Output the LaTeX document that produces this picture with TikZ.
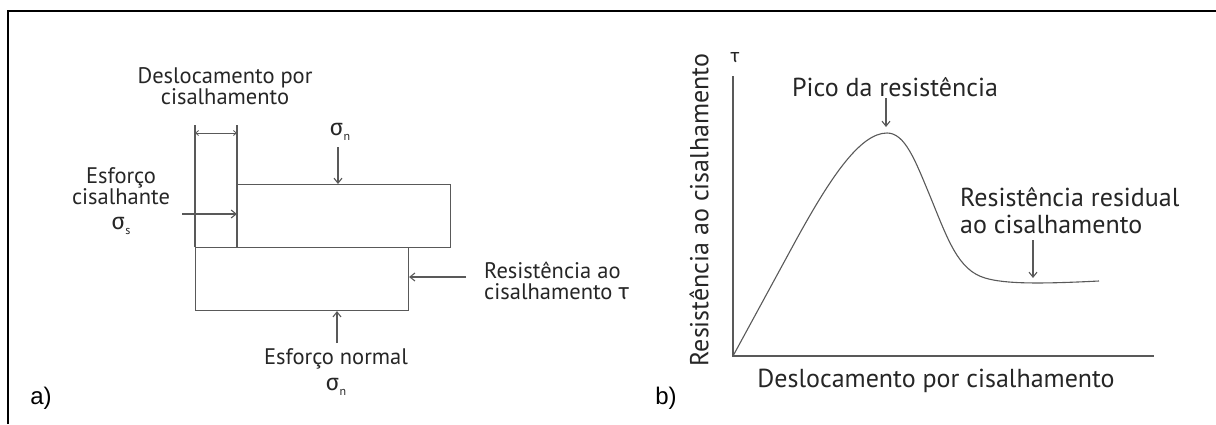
\documentclass[tikz,border=0pt]{standalone}
\usepackage{fontspec}
\setmainfont{PT Sans}
\newfontfamily\grk{Fira Sans}
\newfontfamily\arialf{Liberation Sans}
\usetikzlibrary{arrows.meta}
\newcommand\sigsub[1]{{\grk\fontsize{23}{21}\selectfont σ}\kern0.5pt\raisebox{-0.25em}{\fontsize{12}{12}\selectfont #1}}
\begin{document}
\begin{tikzpicture}[x=1pt,y=-1pt,
  ln/.style={draw=black!65, line width=1.1pt},
  arr/.style={ln, -{Straight Barb[length=5pt,width=8pt]}},
  dimarr/.style={ln, line width=0.8pt, {Straight Barb[length=3pt,width=5pt]}-{Straight Barb[length=3pt,width=5pt]}},
  box/.style={ln, minimum width=213pt, minimum height=63pt, anchor=north west, inner sep=0},
  lbl/.style={font=\fontsize{22.5}{21}\selectfont, text=black!85, align=center, inner sep=0},
  lblb/.style={font=\fontsize{26}{27}\selectfont, text=black!85, align=left, inner sep=0},
  tag/.style={font=\arialf\fontsize{24}{24}\selectfont, inner sep=0}]
\useasboundingbox (0,0) rectangle (1216,424);
\draw[line width=2pt] (7.5,424) -- (7.5,10.5) -- (1216,10.5);

% ---- panel a ----
\node[box] (top) at (237,184) {};
\node[box] (bot) at (195,247) {};
\coordinate (tl) at (237,125);
\coordinate (bl) at (195,125);
\draw[ln, line width=1.5pt] (tl) -- (top.south west);
\draw[ln] (bl) -- (bot.north west);
\coordinate (d1) at (195,133);
\coordinate (d2) at (237,133);
\draw[dimarr] (d1) -- (d2);
\node[lbl] (desl) at (225,86) {Deslocamento por\\cisalhamento};

\node[lbl] (sn1) at (340,132) {\sigsub{n}};
\coordinate (sn1t) at (338,147);
\draw[arr] (sn1t) -- (top.north -| sn1t);

\node[lbl] (esc) at (121,201) {Esforço\\cisalhante\\[4pt]\sigsub{s}};
\coordinate (esct) at (182,214);
\draw[arr] (esct) -- (top.west |- esct);

\node[lbl, anchor=west, align=left] (res) at (484,281) {Resistência ao\\cisalhamento {\grk τ}};
\coordinate (rest) at (466,277);
\draw[arr] (rest) -- (bot.east |- rest);

\node[lbl] (esn) at (336,372) {Esforço normal\\[5pt]\sigsub{n}};
\coordinate (esnt) at (337,343);
\draw[arr] (esnt) -- (bot.south -| esnt);

\node[tag] (ta) at (41,398) {a)};

% ---- panel b ----
\coordinate (O) at (733,356);
\coordinate (ytop) at (733,76);
\coordinate (xend) at (1154,356);
\draw[ln] (ytop) -- (O) -- (xend);
\node[lbl, font=\grk\fontsize{19}{20}\selectfont] (tau) at (735,58) {τ};
\node[lblb, rotate=90] (ylab) at (699,210) {Resistência ao cisalhamento};
\node[lblb] (xlab) at (936,381) {Deslocamento por cisalhamento};
\node[tag] (tb) at (666,398) {b)};

\draw[ln] (O) -- (795,242) .. controls (830,178) and (860,133) .. (887,133)
  .. controls (905,133) and (915,160) .. (930,196)
  .. controls (948,240) and (958,270) .. (985,278)
  .. controls (1005,284) and (1040,284) .. (1099,281);

\node[lblb] (pico) at (895,87) {Pico da resistência};
\coordinate (picot) at (886,98);
\coordinate (picoe) at (886,127);
\draw[arr] (picot) -- (picoe);

\node[lblb, anchor=west] (resid) at (960,211) {Resistência residual\\ao cisalhamento};
\coordinate (residt) at (1033,240);
\coordinate (reside) at (1033,278);
\draw[arr] (residt) -- (reside);
\end{tikzpicture}
\end{document}
